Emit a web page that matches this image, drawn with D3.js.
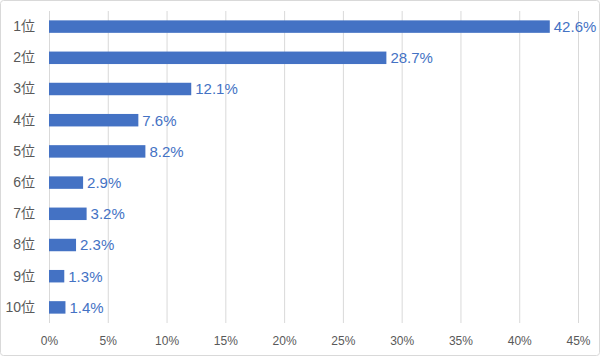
<!DOCTYPE html>
<html><head><meta charset="utf-8">
<script src="https://cdn.jsdelivr.net/npm/d3@7"></script>
<style>body{margin:0;background:#fff;}svg{display:block;}</style>
</head><body>
<script>
const categories = ["1位","2位","3位","4位","5位","6位","7位","8位","9位","10位"];
const values = [42.6, 28.7, 12.1, 7.6, 8.2, 2.9, 3.2, 2.3, 1.3, 1.4];
const xTicks = [0,5,10,15,20,25,30,35,40,45];

const W = 600, H = 356;
const svg = d3.select("body").append("svg").attr("width", W).attr("height", H);
svg.append("rect").attr("x",0.5).attr("y",0.5).attr("width",W-1).attr("height",H-1)
  .attr("rx",3).attr("fill","#fff").attr("stroke","#d9d9d9");

const x = d3.scaleLinear().domain([0,45]).range([49,578]);
const y = d3.scaleBand().domain(categories).range([11,323]).paddingInner(0.6).paddingOuter(0.3);

// gridlines
svg.append("g").selectAll("line").data(xTicks).join("line")
  .attr("x1",d=>x(d)+0.5).attr("x2",d=>x(d)+0.5).attr("y1",11).attr("y2",323)
  .attr("stroke","#d9d9d9").attr("stroke-width",1);

// x axis labels
const xAxis = d3.axisBottom(x).tickValues(xTicks).tickFormat(d=>d+"%").tickSize(0).tickPadding(0);
const gx = svg.append("g").attr("transform","translate(0,336)").call(xAxis);
gx.select(".domain").remove();
gx.selectAll("text").attr("fill","#595959").attr("font-size",12)
  .attr("font-family","'Liberation Sans', Arial, sans-serif").attr("dy","0.71em");

// y axis labels
const yAxis = d3.axisLeft(y).tickSize(0).tickPadding(0);
const gy = svg.append("g").attr("transform","translate(35,0)").call(yAxis);
gy.select(".domain").remove();
gy.selectAll("text").attr("fill","#595959").attr("font-size",14)
  .attr("font-family","'Liberation Sans','Noto Sans CJK JP', sans-serif");

// bars
svg.append("g").selectAll("rect").data(categories).join("rect")
  .attr("x",x(0)).attr("y",d=>y(d)).attr("height",y.bandwidth())
  .attr("width",(d,i)=>x(values[i])-x(0)).attr("fill","#4472C4");

// value labels
svg.append("g").selectAll("text").data(categories).join("text")
  .attr("x",(d,i)=>x(values[i])+4).attr("y",d=>y(d)+y.bandwidth()/2)
  .attr("dy","0.36em").attr("fill","#4472C4").attr("font-size",15)
  .attr("font-family","'Liberation Sans', Arial, sans-serif")
  .text((d,i)=>values[i].toFixed(1)+"%");
</script>
</body></html>
